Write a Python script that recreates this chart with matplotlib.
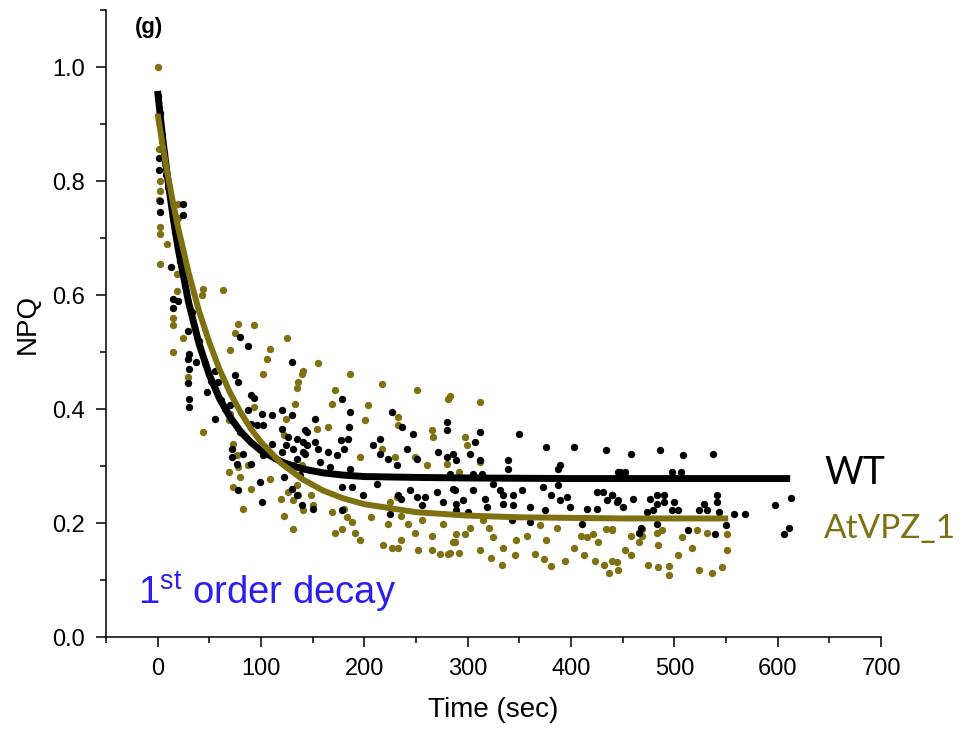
import matplotlib
matplotlib.use("Agg")
import matplotlib.pyplot as plt
from matplotlib.ticker import MultipleLocator, FormatStrFormatter

plt.rcParams['font.family'] = ['Liberation Sans', 'DejaVu Sans']
plt.rcParams['mathtext.fontset'] = 'custom'
plt.rcParams['mathtext.rm'] = 'Liberation Sans'

# ---------------- data ----------------
wt_time = [0, 2, 4, 6, 8, 10, 1, 1, 2.6, 2.6, 25, 25, 12.5, 17, 22, 33, 40, 52, 65,
           14.5, 14.5, 20, 29, 30, 29, 30, 29, 30, 30, 37, 46, 56, 58, 48, 61, 70, 56, 78, 75,
           80, 87, 90, 93, 87, 90, 96, 102, 101, 111, 120, 130, 130, 120, 126, 135, 124, 131,
           141, 135, 120, 111, 102, 80, 72, 83, 90, 77, 72, 99, 101, 78, 122, 130, 140, 135,
           145, 143,
           178, 186, 152, 145, 141, 143, 152, 155, 165, 177, 180, 174, 185, 184, 208, 215, 215,
           227, 236, 247, 241, 251, 271, 280, 280, 223, 232, 157, 167, 186, 178, 188, 199, 212,
           233, 235, 244, 251, 259, 256, 270, 276, 286, 289, 178, 150, 225, 138, 283, 280,
           312, 350, 376, 403, 434, 307, 302, 312, 339, 339, 389, 387, 286, 289, 305, 314, 445,
           324, 288, 305, 331, 334, 344, 353, 373, 381, 387, 389, 396, 399, 425, 431, 440, 435,
           444, 295, 317, 319, 334, 344, 360, 375, 415, 425, 343, 360, 411, 289, 300,
           458, 486, 508, 537, 447, 452, 498, 506, 440, 445, 450, 460, 476, 483, 490, 483, 490,
           500, 498, 503, 473, 479, 524, 532, 529, 541, 541, 543, 558, 568, 597, 613, 483, 468,
           466, 513, 539, 550, 611, 606]
wt_npq = [0.95, 0.92, 0.88, 0.85, 0.81, 0.79, 0.84, 0.82, 0.765, 0.745, 0.76, 0.74, 0.65, 0.71,
          0.66, 0.57, 0.52, 0.45, 0.40,
          0.593, 0.577, 0.589, 0.536, 0.497, 0.487, 0.471, 0.445, 0.418, 0.404, 0.483, 0.48,
          0.466, 0.448, 0.43, 0.416, 0.407, 0.383, 0.448, 0.46,
          0.527, 0.51, 0.425, 0.42, 0.398, 0.374, 0.372, 0.372, 0.392, 0.39, 0.398, 0.39, 0.483,
          0.365, 0.351, 0.347, 0.337, 0.33,
          0.325, 0.312, 0.325, 0.339, 0.319, 0.36, 0.33, 0.321, 0.303, 0.303, 0.316, 0.272,
          0.236, 0.258, 0.28, 0.26, 0.231, 0.25,
          0.337, 0.363,
          0.418, 0.395, 0.383, 0.36, 0.342, 0.321, 0.342, 0.33, 0.325, 0.346, 0.33, 0.319, 0.369,
          0.347, 0.337, 0.347, 0.321,
          0.395, 0.369, 0.356, 0.33, 0.312, 0.325, 0.377, 0.363, 0.312, 0.302, 0.307, 0.298,
          0.295, 0.263, 0.263, 0.25, 0.268,
          0.25, 0.242, 0.258, 0.245, 0.245, 0.231, 0.254, 0.236, 0.259, 0.233, 0.222, 0.224,
          0.215, 0.284, 0.286, 0.316,
          0.36, 0.356, 0.333, 0.333, 0.328, 0.342, 0.321, 0.31, 0.31, 0.295, 0.302, 0.295, 0.321,
          0.31, 0.286, 0.286, 0.289,
          0.268, 0.258, 0.258, 0.258, 0.249, 0.249, 0.258, 0.263, 0.25, 0.266, 0.24, 0.245,
          0.228, 0.254, 0.254, 0.25, 0.24,
          0.236, 0.24, 0.242, 0.228, 0.233, 0.231, 0.228, 0.222, 0.224, 0.224, 0.205, 0.201,
          0.198, 0.222, 0.219,
          0.321, 0.328, 0.319, 0.321, 0.289, 0.289, 0.289, 0.289, 0.25, 0.24, 0.228, 0.242,
          0.242, 0.25, 0.249, 0.233, 0.236,
          0.236, 0.222, 0.222, 0.219, 0.222, 0.222, 0.222, 0.233, 0.249, 0.236, 0.219, 0.215,
          0.215, 0.231, 0.243, 0.198, 0.192,
          0.183, 0.187, 0.18, 0.196, 0.192, 0.18]

vpz_time = [0, 1, 2.6, 2.6, 1, 2.6, 2.6, 9, 2.6, 20, 20, 44, 63, 43, 19, 19, 4, 7, 11,
            14.5, 14.5, 14.5, 25, 29, 44, 78, 93, 75, 70, 109, 106, 102, 125, 140, 136, 135,
            133, 124, 93, 70, 69, 73, 77, 78, 69, 87, 80, 73, 90, 109, 83, 119, 122, 131, 126,
            131, 136, 141, 135, 131, 122,
            155, 141, 186, 217, 251, 281, 172, 169, 204, 201, 233, 233, 265, 266, 154, 165, 196,
            217, 249, 230, 261, 280, 140, 148, 150, 169, 180, 183, 188, 191, 178, 172, 196, 206,
            218, 227, 233, 223, 235, 235, 242, 252, 249, 265, 273, 281, 265, 276, 288, 256, 225,
            232,
            312, 283, 297, 299, 312, 292, 315, 321, 302, 289, 297, 324, 286, 292, 312, 323, 334,
            333, 346, 347, 357, 365, 370, 376, 374, 381, 386, 394, 403, 410, 415, 421, 413, 423,
            432, 437, 434, 440, 426, 444, 283,
            440, 458, 469, 469, 483, 488, 522, 532, 551, 507, 466, 484, 517, 551, 452, 458, 503,
            440, 445, 474, 484, 495, 495, 524, 536, 546]
vpz_npq = [1.0, 0.857, 0.80, 0.783, 0.767, 0.72, 0.707, 0.69, 0.654, 0.76, 0.735, 0.61, 0.608,
           0.60, 0.637, 0.607, 0.87, 0.83, 0.79,
           0.559, 0.548, 0.50, 0.524, 0.457, 0.36, 0.55, 0.548, 0.533, 0.504, 0.506, 0.487,
           0.462, 0.524, 0.462, 0.448, 0.436,
           0.409, 0.383, 0.404, 0.392, 0.381, 0.339, 0.319, 0.298, 0.289, 0.302, 0.28, 0.263,
           0.259, 0.277, 0.224, 0.242, 0.213, 0.189, 0.254,
           0.24, 0.25, 0.222, 0.266, 0.302, 0.354,
           0.48, 0.466, 0.462, 0.444, 0.434, 0.418, 0.434, 0.409, 0.407, 0.381, 0.386, 0.372,
           0.363, 0.351, 0.365, 0.369, 0.316,
           0.33, 0.316, 0.316, 0.302, 0.303, 0.302, 0.25, 0.231, 0.219, 0.224, 0.21, 0.201,
           0.183, 0.189, 0.183, 0.171, 0.21,
           0.162, 0.157, 0.157, 0.198, 0.171, 0.213, 0.198, 0.152, 0.183, 0.153, 0.145, 0.145,
           0.178, 0.198, 0.166, 0.205, 0.236,
           0.245,
           0.413, 0.422, 0.351, 0.337, 0.307, 0.289, 0.205, 0.192, 0.192, 0.18, 0.18, 0.175,
           0.166, 0.148, 0.152, 0.139, 0.157,
           0.127, 0.143, 0.171, 0.178, 0.145, 0.196, 0.171, 0.136, 0.125, 0.192, 0.134, 0.157,
           0.178, 0.175, 0.18, 0.143, 0.134,
           0.127, 0.113, 0.189, 0.189, 0.166, 0.131, 0.148,
           0.187, 0.178, 0.189, 0.178, 0.183, 0.187, 0.187, 0.183, 0.18, 0.175, 0.166, 0.161,
           0.157, 0.153, 0.153, 0.143, 0.143,
           0.134, 0.118, 0.127, 0.122, 0.125, 0.108, 0.118, 0.113, 0.122]

# fitted first-order decay curves
wt_fit_time = [0, 5, 10, 15, 20, 30, 40, 50, 60, 70, 80, 90, 100, 120, 140, 160, 180, 200,
               250, 300, 400, 500, 612]
wt_fit_npq = [0.958, 0.874, 0.801, 0.736, 0.680, 0.587, 0.515, 0.460, 0.418, 0.386, 0.361,
              0.342, 0.327, 0.307, 0.295, 0.288, 0.284, 0.2815, 0.280, 0.279, 0.278, 0.278,
              0.278]
vpz_fit_time = [0, 5, 10, 15, 20, 30, 40, 50, 60, 70, 80, 90, 100, 120, 140, 160, 180, 200,
                250, 300, 350, 400, 450, 500, 552]
vpz_fit_npq = [0.918, 0.861, 0.809, 0.761, 0.717, 0.639, 0.572, 0.517, 0.469, 0.429, 0.395,
               0.366, 0.342, 0.304, 0.277, 0.257, 0.243, 0.233, 0.219, 0.213, 0.210, 0.209,
               0.208, 0.208, 0.208]

x_ticks = [0, 100, 200, 300, 400, 500, 600, 700]
y_ticks = [0.0, 0.2, 0.4, 0.6, 0.8, 1.0]

olive = '#7f7012'

fig = plt.figure(figsize=(9.63, 7.42), dpi=100)
ax = fig.add_axes([0.110, 0.1415, 0.805, 0.845])

ax.scatter(vpz_time, vpz_npq, s=28, color=olive, linewidths=0, zorder=2)
ax.scatter(wt_time, wt_npq, s=28, color='black', linewidths=0, zorder=3)
ax.plot(wt_fit_time, wt_fit_npq, color='black', lw=5.0, zorder=4, solid_capstyle='butt')
ax.plot(vpz_fit_time, vpz_fit_npq, color=olive, lw=4.3, zorder=5, solid_capstyle='butt')

ax.set_xlim(-50, 700)
ax.set_ylim(0, 1.1)
ax.set_xticks(x_ticks)
ax.set_yticks(y_ticks)
ax.yaxis.set_major_formatter(FormatStrFormatter('%.1f'))
ax.xaxis.set_minor_locator(MultipleLocator(50))
ax.yaxis.set_minor_locator(MultipleLocator(0.1))
ax.tick_params(which='major', direction='out', length=7, width=1.1, labelsize=17, pad=8)
ax.tick_params(which='minor', direction='out', length=4, width=1.1)
for s in ['top', 'right']:
    ax.spines[s].set_visible(False)
for s in ['left', 'bottom']:
    ax.spines[s].set_linewidth(1.1)

ax.set_xlabel('Time (sec)', fontsize=20, labelpad=12)
ax.set_ylabel('NPQ', fontsize=20, labelpad=8)

ax.text(-22, 1.07, '(g)', fontsize=16, fontweight='bold', va='center', ha='left')
ax.text(-19, 0.058, r'1$^{\mathrm{st}}$ order decay', fontsize=27.5, color='#2d1ef0',
        va='baseline', ha='left')
ax.text(645, 0.288, 'WT', fontsize=27, color='black', va='center', ha='left',
        family=['Lato', 'DejaVu Sans'], clip_on=False)
ax.text(645, 0.19, 'AtVPZ_1', fontsize=24, color=olive, va='center', ha='left',
        family=['Lato', 'DejaVu Sans'], clip_on=False)

fig.savefig('out.png', dpi=100)
